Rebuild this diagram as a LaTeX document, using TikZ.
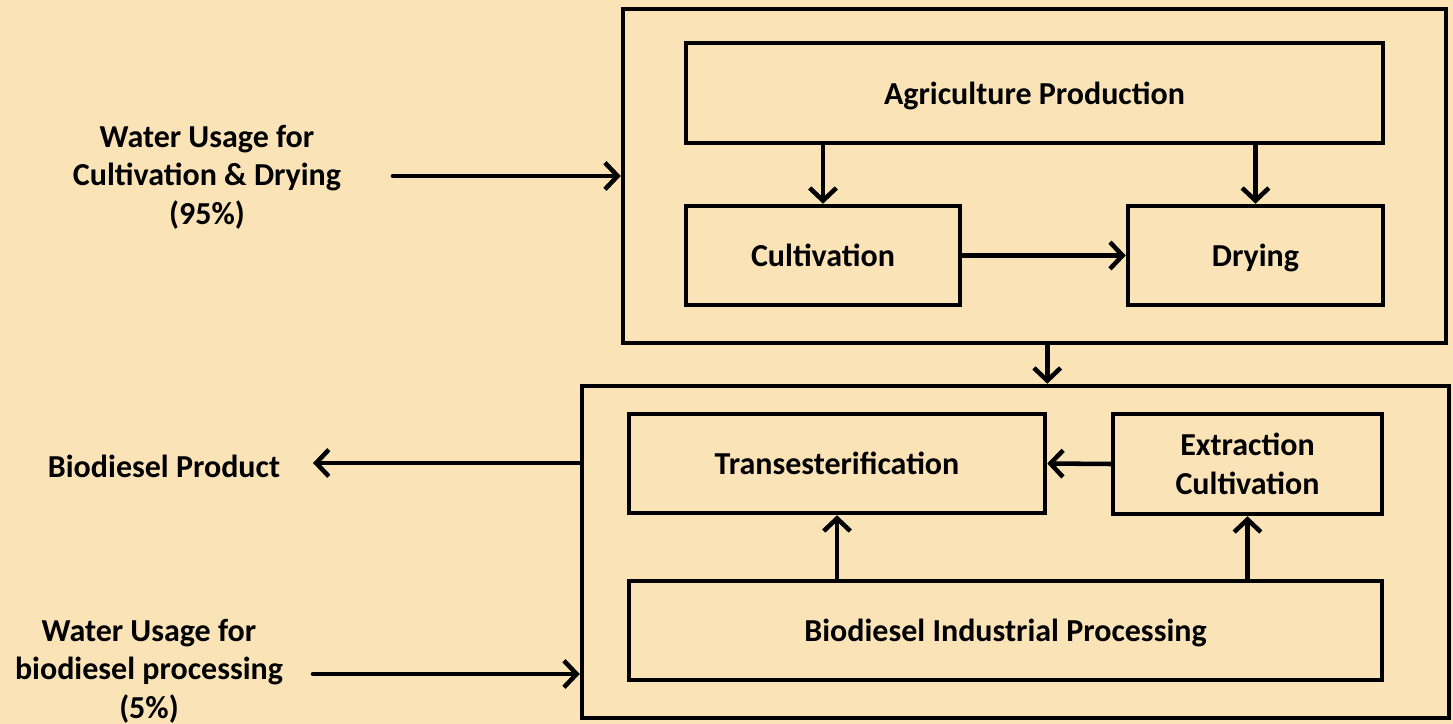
\documentclass[tikz,border=0pt]{standalone}
\usepackage{fontspec}
\setmainfont{Carlito}
\usetikzlibrary{arrows.meta}
\definecolor{bg}{RGB}{250,227,183}
\tikzset{
  box/.style={draw=black, line width=3.4pt, rectangle, inner sep=0pt, align=center, text depth=0pt,
    font=\fontsize{24}{29}\selectfont\bfseries},
  lbl/.style={align=center, inner sep=0pt, font=\fontsize{24}{29}\selectfont\bfseries},
  conn/.style={line width=3.4pt, line cap=round, -{Straight Barb[length=9.5pt,width=20pt,line width=3.4pt]}}
}
\begin{document}
\begin{tikzpicture}[x=0.75pt,y=-0.75pt]
\fill[bg] (0,0) rectangle (1453,724);
\useasboundingbox (0,0) rectangle (1453,724);
% top group
\node[box, minimum width=617.25pt, minimum height=250.5pt] (outA) at (1034.5,176) {};
\node[box, minimum width=522.75pt, minimum height=75pt] (agri) at (1034.5,93) {Agriculture Production};
\node[box, minimum width=205.5pt, minimum height=74.25pt] (cult) at (823,255.5) {Cultivation};
\node[box, minimum width=191.25pt, minimum height=74.25pt] (dry) at (1255.5,255.5) {Drying};
% bottom group
\node[box, minimum width=650.25pt, minimum height=249pt] (outB) at (1015.5,552) {};
\node[box, minimum width=312pt, minimum height=74.25pt] (trans) at (837,463.5) {Transesterification};
\node[box, minimum width=201.75pt, minimum height=75pt] (extr) at (1247.5,464) {Extraction\\Cultivation};
\node[box, minimum width=564.75pt, minimum height=74.25pt] (bip) at (1005.5,630.5) {Biodiesel Industrial Processing};
% labels
\node[lbl] (w1) at (207,177) {Water Usage for\\Cultivation \& Drying\\(95\%)};
\node[lbl] (bp) at (164,466) {Biodiesel Product};
\node[lbl] (w2) at (149,671) {Water Usage for\\biodiesel processing\\(5\%)};
\coordinate (w1s) at (393,176);
\coordinate (bpe) at (313,463);
\coordinate (w2s) at (313,674);
% connectors
\draw[conn] (agri.south -| cult) -- (cult.north);
\draw[conn] (agri.south -| dry) -- (dry.north);
\draw[conn] (cult.east) -- (dry.west);
\draw[conn] (outA.south -| trans.east) -- (outB.north -| trans.east);
\draw[conn] (extr.west) -- (trans.east);
\draw[conn] (bip.north -| trans) -- (trans.south);
\draw[conn] (bip.north -| extr) -- (extr.south);
\draw[conn] (w1s) -- (outA.west |- w1s);
\draw[conn] (outB.west |- bpe) -- (bpe);
\draw[conn] (w2s) -- (outB.west |- w2s);
\end{tikzpicture}
\end{document}
